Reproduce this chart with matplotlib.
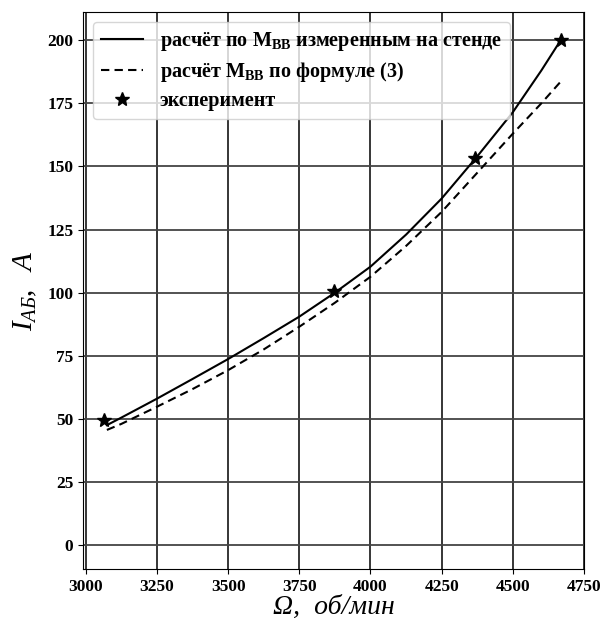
import matplotlib
matplotlib.use('Agg')
import matplotlib.pyplot as plt

plt.rcParams['font.family'] = ['Liberation Serif', 'DejaVu Serif']
plt.rcParams['mathtext.fontset'] = 'custom'
plt.rcParams['mathtext.rm'] = 'Liberation Serif'
plt.rcParams['mathtext.it'] = 'Liberation Serif:italic'
plt.rcParams['mathtext.bf'] = 'Liberation Serif:bold'

# расчётные кривые
omega = [3074, 3125, 3250, 3375, 3500, 3625, 3750, 3875, 4000, 4125, 4250, 4375, 4500, 4600, 4668]
i_stand = [47.5, 50.5, 58.0, 65.8, 73.7, 82.0, 90.5, 100.0, 110.3, 123.0, 137.3, 154.0, 171.5, 188.0, 200.0]
i_formula = [45.6, 48.0, 54.8, 61.8, 69.3, 77.5, 86.5, 96.0, 106.3, 118.5, 132.0, 147.5, 163.0, 175.0, 183.6]

# эксперимент
omega_exp = [3065, 3873, 4367, 4670]
i_exp = [49.5, 100.5, 153.5, 200.0]

xticks = [3000, 3250, 3500, 3750, 4000, 4250, 4500, 4750]
yticks = [0, 25, 50, 75, 100, 125, 150, 175, 200]

fig = plt.figure(figsize=(6.03, 6.25), dpi=100)
ax = fig.add_axes([0.1376, 0.0896, 0.9685 - 0.1376, 0.9808 - 0.0896])

ax.plot(omega, i_stand, color='black', lw=1.5,
        label='расчёт по M$_{\\mathbf{ВВ}}$ измеренным на стенде')
ax.plot(omega, i_formula, color='black', lw=1.5, ls=(0, (4, 2.5)),
        label='расчёт M$_{\\mathbf{ВВ}}$ по формуле (3)')
ax.plot(omega_exp, i_exp, ls='none', marker='*', color='black', ms=10,
        label='эксперимент')

ax.set_xlim(2990, 4750)
ax.set_ylim(-9.5, 211.2)
ax.set_xticks(xticks)
ax.set_yticks(yticks)
ax.tick_params(labelsize=12.5)
for lbl in ax.get_xticklabels() + ax.get_yticklabels():
    lbl.set_fontweight('bold')

ax.xaxis.grid(True, color='black', lw=1.1)
ax.yaxis.grid(True, color='#444444', lw=1.3)
ax.set_axisbelow(True)

ax.set_xlabel('Ω,  об/мин', fontsize=20, fontstyle='italic', labelpad=0)
ax.set_ylabel('$I_{АБ},\\ \\ A$', fontsize=21, labelpad=6)

ax.legend(loc='upper left', prop={'weight': 'bold', 'size': 14.5},
          handlelength=2.1, handletextpad=0.8, labelspacing=0.35,
          borderaxespad=0.5, borderpad=0.4)

fig.savefig('out.png', dpi=100)
